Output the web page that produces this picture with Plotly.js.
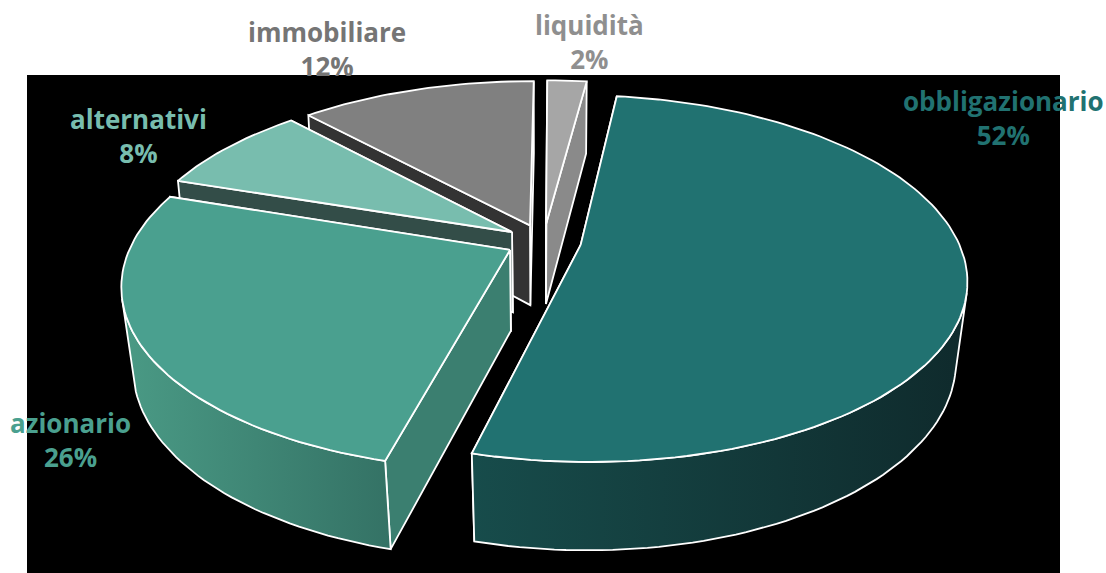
<!DOCTYPE html>
<html>
<head>
<meta charset="utf-8">
<script src="https://cdn.plot.ly/plotly-3.0.1.min.js"></script>
<style>html,body{margin:0;padding:0;background:#fff}</style>
</head>
<body>
<div id="chart" style="width:1106px;height:573px"></div>
<script>
// Values
const categories = ['obbligazionario', 'azionario', 'alternativi', 'immobiliare', 'liquidità'];
const shares = [52, 26, 8, 12, 2];

// Styles
const topColors = ['#217271', '#4AA08F', '#78BDAE', '#808080', '#A6A6A6'];
const cutColors = ['#143F40', '#3B7F70', '#334D48', '#333333', '#8A8A8A'];
const wallLeft  = ['#174C4B', '#4A9A85', '#334D48', '#333333', '#8A8A8A'];
const wallRight = ['#0F2A2C', '#347265', '#334D48', '#333333', '#8A8A8A'];
const labelColors = ['#217271', '#4AA08F', '#78BDAE', '#757575', '#8F8F8F'];
const labelPixels = [[1003, 118], [70, 440], [138, 136], [327, 49], [589, 42]];

// Pie projection parameters (3D pie in a perspective view)
const W = 1106, H = 573;
const plot = {l: 27, r: 1060, t: 75, b: 573};
const centre = {x: 543.5, y: 241.5};
const radius = {x: 377.5, y: 176};
const startAngle = 7.5, explode = 0.1, persp = 0.183;
const depth = 80.5, depthTaper = 0.095;
const wallFrom = 105, wallTo = 255; // part of the rim whose outer wall faces the viewer

const rad = d => d * Math.PI / 180;

function project(u, v, z) {
  const s = 1 / (1 + persp * v);
  const d = depth / radius.y * (1 - depthTaper * v);
  const shrink = 0.025 - 0.01 * v;
  return [u * s * (1 - shrink * z), v * s - z * d];
}

const total = shares.reduce((a, b) => a + b, 0);
let acc = startAngle;
const slices = shares.map((val, i) => {
  const a0 = acc, a1 = acc + val / total * 360;
  acc = a1;
  const mid = rad((a0 + a1) / 2);
  return {i, a0, a1, ox: explode * Math.sin(mid), oy: explode * Math.cos(mid)};
});

function rim(sl, ang, z) {
  return project(sl.ox + Math.sin(rad(ang)), sl.oy + Math.cos(rad(ang)), z);
}
function apex(sl, z) { return project(sl.ox, sl.oy, z); }
function arc(sl, from, to, z) {
  const pts = [], n = Math.max(4, Math.ceil((to - from) / 1.5));
  for (let k = 0; k <= n; k++) pts.push(rim(sl, from + (to - from) * k / n, z));
  return pts;
}
function poly(pts, fill, name, gradient) {
  const xs = pts.map(p => p[0]).concat([pts[0][0]]);
  const ys = pts.map(p => p[1]).concat([pts[0][1]]);
  const tr = {
    type: 'scatter', mode: 'lines', x: xs, y: ys, name, fill: 'toself',
    fillcolor: fill, line: {color: '#FFFFFF', width: 1.8},
    hoverinfo: 'name', showlegend: false
  };
  if (gradient) tr.fillgradient = gradient;
  return tr;
}

const traces = [];
// back to front: liquidità, immobiliare, alternativi, azionario, obbligazionario
[4, 3, 2, 1, 0].forEach(idx => {
  const sl = slices[idx], name = categories[idx];
  [sl.a1, sl.a0].forEach(a => {
    traces.push(poly([apex(sl, 0), rim(sl, a, 0), rim(sl, a, 1), apex(sl, 1)], cutColors[idx], name));
  });
  const from = Math.max(sl.a0, wallFrom), to = Math.min(sl.a1, wallTo);
  if (to > from) {
    const wall = arc(sl, from, to, 0).concat(arc(sl, from, to, 1).reverse());
    const xs = wall.map(p => p[0]);
    traces.push(poly(wall, cutColors[idx], name, {
      type: 'horizontal',
      start: Math.min.apply(null, xs), stop: Math.max.apply(null, xs),
      colorscale: [[0, wallLeft[idx]], [1, wallRight[idx]]]
    }));
  }
  traces.push(poly([apex(sl, 0)].concat(arc(sl, sl.a0, sl.a1, 0)), topColors[idx], name));
});

const annotations = categories.map((c, i) => ({
  xref: 'paper', yref: 'paper',
  x: labelPixels[i][0] / W, y: 1 - labelPixels[i][1] / H,
  xanchor: 'center', yanchor: 'middle', align: 'center', showarrow: false,
  text: c + '<br>' + shares[i] + '%',
  font: {family: '"Open Sans", sans-serif', size: 26, color: labelColors[i], weight: 700}
}));

const axisBase = {visible: false, fixedrange: true, showgrid: false, zeroline: false};
const layout = {
  width: W, height: H, autosize: false,
  margin: {l: 0, r: 0, t: 0, b: 0, pad: 0},
  paper_bgcolor: '#FFFFFF', plot_bgcolor: '#000000',
  showlegend: false,
  xaxis: Object.assign({}, axisBase, {
    domain: [plot.l / W, plot.r / W],
    range: [(plot.l - centre.x) / radius.x, (plot.r - centre.x) / radius.x]
  }),
  yaxis: Object.assign({}, axisBase, {
    domain: [1 - plot.b / H, 1 - plot.t / H],
    range: [(centre.y - plot.b) / radius.y, (centre.y - plot.t) / radius.y]
  }),
  annotations
};
Plotly.newPlot('chart', traces, layout, {displayModeBar: false, staticPlot: true});
</script>
</body>
</html>
